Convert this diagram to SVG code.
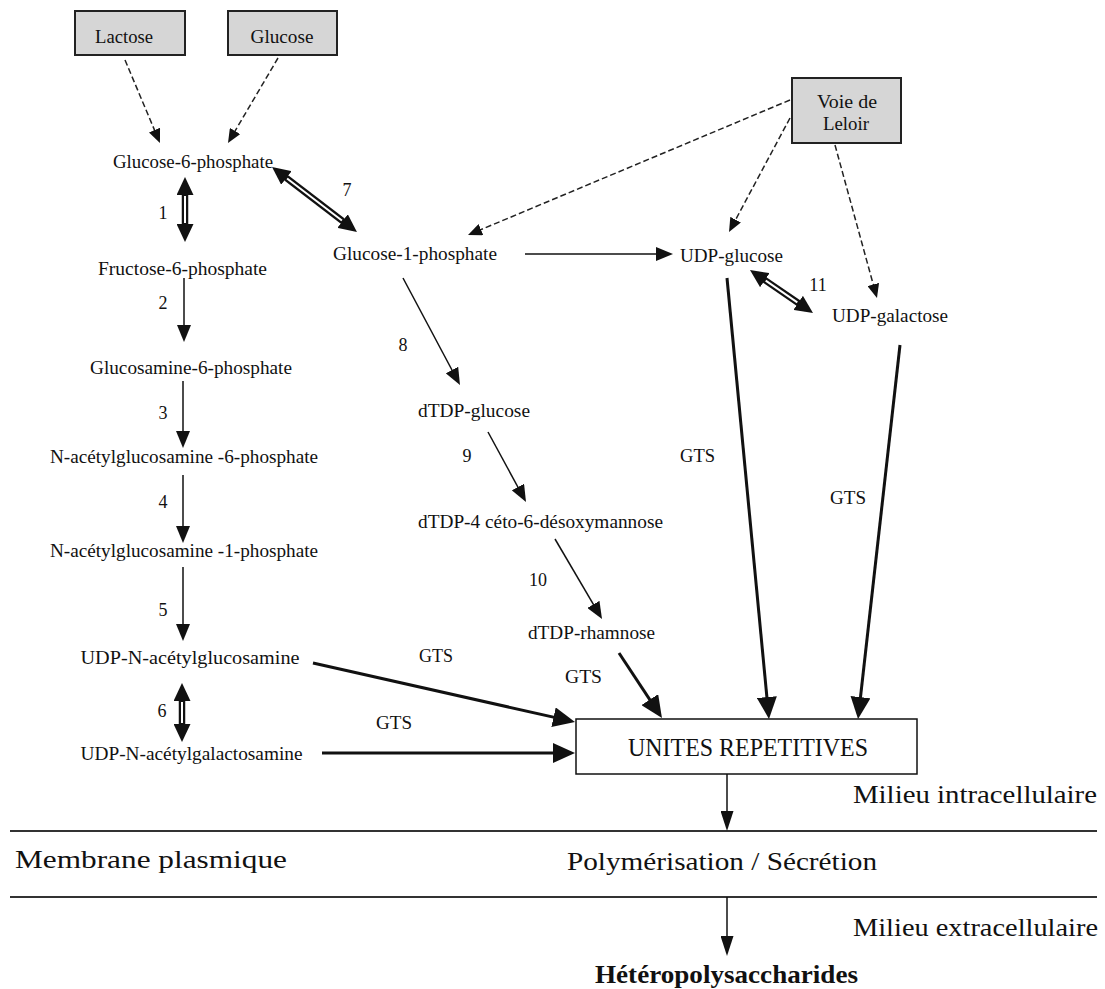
<svg xmlns="http://www.w3.org/2000/svg" width="1105" height="989" viewBox="0 0 1105 989">
<style>
.t{font-family:"Liberation Serif","Times New Roman",serif;font-size:18px;fill:#111;text-anchor:middle}
.big{font-size:26px}
.bold{font-weight:bold;font-size:25px}
.box{fill:#d6d6d6;stroke:#222;stroke-width:2}
.thin{stroke:#111;stroke-width:1.5;fill:none}
.thick{stroke:#111;stroke-width:3;fill:none}
.dash{stroke:#222;stroke-width:1.5;fill:none;stroke-dasharray:6 3}
.dbl{stroke:#111;stroke-width:6.5;fill:none}
.dblw{stroke:#fff;stroke-width:2;fill:none}
.sep{stroke:#333;stroke-width:2}
</style>
<defs>
<marker id="hThin" markerUnits="userSpaceOnUse" markerWidth="17" markerHeight="14" viewBox="0 0 17 14" refX="13" refY="7" orient="auto"><path d="M0,0 L17,7 L0,14 z" fill="#111"/></marker>
<marker id="hDash" markerUnits="userSpaceOnUse" markerWidth="14" markerHeight="12" viewBox="0 0 14 12" refX="10" refY="6" orient="auto"><path d="M0,0 L14,6 L0,12 z" fill="#111"/></marker>
<marker id="hThick" markerUnits="userSpaceOnUse" markerWidth="22" markerHeight="20" viewBox="0 0 22 20" refX="17" refY="10" orient="auto"><path d="M0,0 L22,10 L0,20 z" fill="#111"/></marker>
<marker id="hLong" markerUnits="userSpaceOnUse" markerWidth="20" markerHeight="13" viewBox="0 0 20 13" refX="16" refY="6.5" orient="auto"><path d="M0,0 L20,6.5 L0,13 z" fill="#111"/></marker>
<marker id="hDbl" markerUnits="userSpaceOnUse" markerWidth="18" markerHeight="17" viewBox="0 0 18 17" refX="10" refY="8.5" orient="auto-start-reverse"><path d="M0,0 L18,8.5 L0,17 z" fill="#111"/></marker>
</defs>
<rect width="1105" height="989" fill="#fff"/>

<g id="compartments">
<line class="sep" x1="10" y1="831" x2="1097" y2="831"/>
<line class="sep" x1="10" y1="897" x2="1097" y2="897"/>
<text class="t big" x="975" y="803" textLength="244" lengthAdjust="spacingAndGlyphs">Milieu intracellulaire</text>
<text class="t big" x="151" y="868" textLength="272" lengthAdjust="spacingAndGlyphs">Membrane plasmique</text>
<text class="t big" x="722" y="870" textLength="310" lengthAdjust="spacingAndGlyphs">Polymérisation / Sécrétion</text>
<text class="t big" x="975.5" y="936" textLength="245" lengthAdjust="spacingAndGlyphs">Milieu extracellulaire</text>
</g>

<g id="connectors">
<line class="dash" x1="125" y1="60" x2="158.4" y2="139.3" marker-end="url(#hDash)"/>
<line class="dash" x1="278" y1="58" x2="230" y2="139.6" marker-end="url(#hDash)"/>
<line class="dash" x1="790" y1="100" x2="471.7" y2="233.5" marker-end="url(#hDash)"/>
<line class="dash" x1="790" y1="118" x2="730.9" y2="228.5" marker-end="url(#hDash)"/>
<line class="dash" x1="835" y1="145" x2="875.9" y2="294.1" marker-end="url(#hDash)"/>

<line class="thin" x1="184" y1="278" x2="184" y2="338" marker-end="url(#hThin)"/>
<line class="thin" x1="183" y1="381" x2="183" y2="444" marker-end="url(#hThin)"/>
<line class="thin" x1="183" y1="475" x2="183" y2="539" marker-end="url(#hThin)"/>
<line class="thin" x1="183" y1="567" x2="183" y2="637" marker-end="url(#hThin)"/>
<line class="thin" x1="525" y1="254" x2="669" y2="254" marker-end="url(#hThin)"/>
<line class="thin" x1="403" y1="278" x2="458.1" y2="381.5" marker-end="url(#hThin)"/>
<line class="thin" x1="488" y1="432" x2="524.1" y2="498.5" marker-end="url(#hThin)"/>
<line class="thin" x1="555" y1="539" x2="600" y2="615.6" marker-end="url(#hThin)"/>
<line class="thin" x1="727" y1="774" x2="727" y2="827" marker-end="url(#hLong)"/>
<line class="thin" x1="727" y1="897" x2="727" y2="952" marker-end="url(#hLong)"/>

<line class="thick" x1="313" y1="663" x2="570.1" y2="720.9" marker-end="url(#hThick)"/>
<line class="thick" x1="322" y1="753" x2="570" y2="753" marker-end="url(#hThick)"/>
<line class="thick" x1="619" y1="653" x2="659.2" y2="713.8" marker-end="url(#hThick)"/>
<line class="thick" x1="727" y1="278" x2="768.5" y2="714" marker-end="url(#hThick)"/>
<line class="thick" x1="900" y1="345" x2="858.6" y2="714" marker-end="url(#hThick)"/>

<line class="dbl" x1="185" y1="185" x2="185" y2="234" marker-start="url(#hDbl)" marker-end="url(#hDbl)"/>
<line class="dblw" x1="185" y1="196" x2="185" y2="223"/>
<line class="dbl" x1="278.4" y1="171.9" x2="350.6" y2="227.1" marker-start="url(#hDbl)" marker-end="url(#hDbl)"/>
<line class="dblw" x1="287.1" y1="178.5" x2="341.9" y2="220.5"/>
<line class="dbl" x1="756.6" y1="274.5" x2="806.4" y2="308.5" marker-start="url(#hDbl)" marker-end="url(#hDbl)"/>
<line class="dblw" x1="765.7" y1="280.7" x2="797.3" y2="302.3"/>
<line class="dbl" x1="182" y1="691" x2="182" y2="734" marker-start="url(#hDbl)" marker-end="url(#hDbl)"/>
<line class="dblw" x1="182" y1="702" x2="182" y2="723"/>

<text class="t" x="163" y="219">1</text>
<text class="t" x="163" y="309">2</text>
<text class="t" x="163" y="419">3</text>
<text class="t" x="163" y="508">4</text>
<text class="t" x="163" y="616">5</text>
<text class="t" x="162" y="717">6</text>
<text class="t" x="347" y="196">7</text>
<text class="t" x="403" y="351">8</text>
<text class="t" x="467" y="462">9</text>
<text class="t" x="538" y="586">10</text>
<text class="t" x="818" y="291">11</text>
<text class="t" x="697.5" y="462" textLength="35" lengthAdjust="spacingAndGlyphs">GTS</text>
<text class="t" x="848" y="504" textLength="36" lengthAdjust="spacingAndGlyphs">GTS</text>
<text class="t" x="436" y="662" textLength="34" lengthAdjust="spacingAndGlyphs">GTS</text>
<text class="t" x="394" y="729" textLength="36" lengthAdjust="spacingAndGlyphs">GTS</text>
<text class="t" x="583.5" y="683" textLength="37" lengthAdjust="spacingAndGlyphs">GTS</text>
</g>

<g id="n-lactose"><rect class="box" x="75" y="11" width="110" height="44"/><text class="t" x="124" y="43" textLength="58" lengthAdjust="spacingAndGlyphs">Lactose</text></g>
<g id="n-glucose"><rect class="box" x="228" y="11" width="109" height="44"/><text class="t" x="282" y="43" textLength="63" lengthAdjust="spacingAndGlyphs">Glucose</text></g>
<g id="n-leloir"><rect class="box" x="792" y="78" width="109" height="65"/><text class="t" x="847" y="108" textLength="60" lengthAdjust="spacingAndGlyphs">Voie de</text><text class="t" x="846" y="130" textLength="46" lengthAdjust="spacingAndGlyphs">Leloir</text></g>
<g id="n-g6p"><text class="t" x="193" y="168" textLength="160" lengthAdjust="spacingAndGlyphs">Glucose-6-phosphate</text></g>
<g id="n-g1p"><text class="t" x="415" y="260" textLength="164" lengthAdjust="spacingAndGlyphs">Glucose-1-phosphate</text></g>
<g id="n-udpglc"><text class="t" x="731.5" y="262" textLength="103" lengthAdjust="spacingAndGlyphs">UDP-glucose</text></g>
<g id="n-f6p"><text class="t" x="182.5" y="275" textLength="169" lengthAdjust="spacingAndGlyphs">Fructose-6-phosphate</text></g>
<g id="n-udpgal"><text class="t" x="890" y="322" textLength="116" lengthAdjust="spacingAndGlyphs">UDP-galactose</text></g>
<g id="n-gln6p"><text class="t" x="191" y="374" textLength="202" lengthAdjust="spacingAndGlyphs">Glucosamine-6-phosphate</text></g>
<g id="n-dtdpglc"><text class="t" x="474" y="417" textLength="112" lengthAdjust="spacingAndGlyphs">dTDP-glucose</text></g>
<g id="n-glcnac6p"><text class="t" x="184" y="463" textLength="268" lengthAdjust="spacingAndGlyphs">N-acétylglucosamine -6-phosphate</text></g>
<g id="n-dtdpketo"><text class="t" x="540.5" y="528" textLength="245" lengthAdjust="spacingAndGlyphs">dTDP-4 céto-6-désoxymannose</text></g>
<g id="n-glcnac1p"><text class="t" x="184" y="557" textLength="268" lengthAdjust="spacingAndGlyphs">N-acétylglucosamine -1-phosphate</text></g>
<g id="n-dtdprha"><text class="t" x="591.5" y="639" textLength="127" lengthAdjust="spacingAndGlyphs">dTDP-rhamnose</text></g>
<g id="n-udpglcnac"><text class="t" x="190" y="664" textLength="219" lengthAdjust="spacingAndGlyphs">UDP-N-acétylglucosamine</text></g>
<g id="n-udpgalnac"><text class="t" x="191.5" y="760" textLength="222" lengthAdjust="spacingAndGlyphs">UDP-N-acétylgalactosamine</text></g>
<g id="n-unites"><rect x="576" y="719" width="341" height="55" fill="#fff" stroke="#111" stroke-width="1.5"/><text class="t big" x="748" y="756" textLength="240" lengthAdjust="spacingAndGlyphs">UNITES REPETITIVES</text></g>
<g id="n-hetero"><text class="t bold" x="726.5" y="983" textLength="263" lengthAdjust="spacingAndGlyphs">Hétéropolysaccharides</text></g>
</svg>
